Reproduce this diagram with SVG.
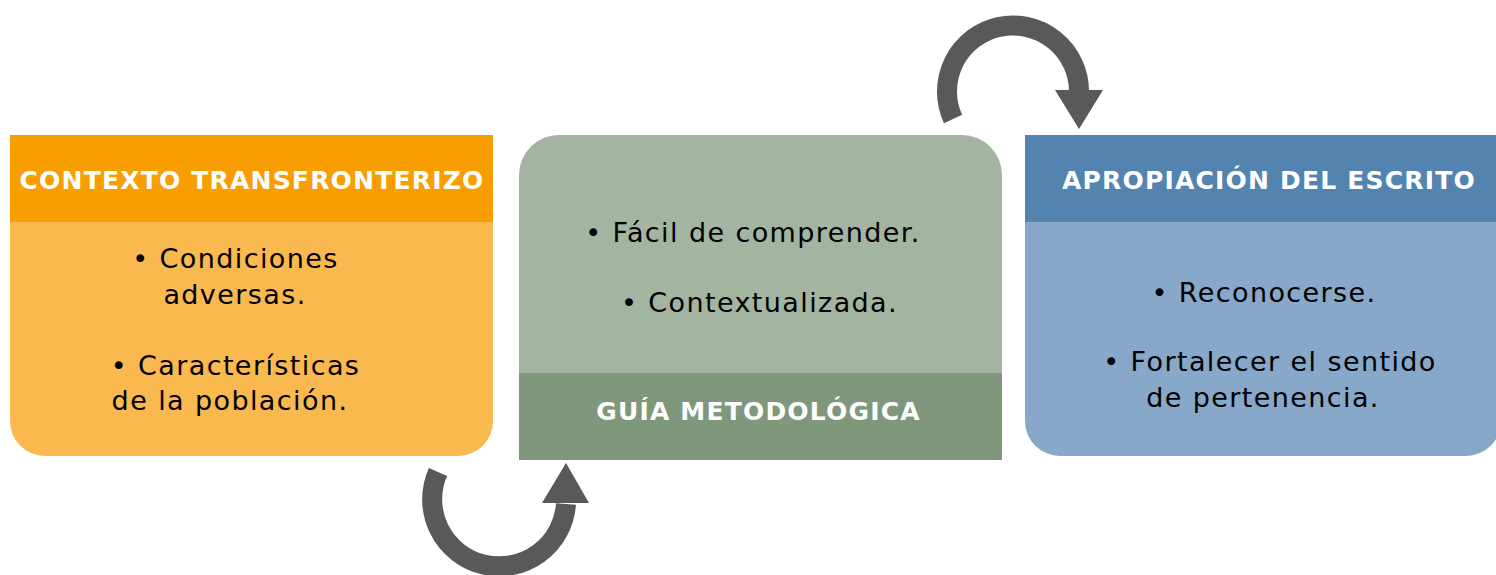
<svg xmlns="http://www.w3.org/2000/svg" width="1496" height="575" viewBox="0 0 1496 575">
  <style>
    .hdr { font-family: "DejaVu Sans", Verdana, sans-serif; font-weight: bold; font-size: 25px; letter-spacing: 1.2px; fill: #ffffff; text-anchor: middle; }
    .body { font-family: "DejaVu Sans", Verdana, sans-serif; font-size: 27px; letter-spacing: 1.4px; fill: #000000; text-anchor: middle; }
    .arc { fill: none; stroke: #595959; stroke-width: 20; stroke-linecap: butt; }
    .head { fill: #595959; }
  </style>
  <rect width="1496" height="575" fill="#ffffff"/>

  <g id="node-contexto">
    <path d="M10,135 H493 V421 A35,35 0 0 1 458,456 H45 A35,35 0 0 1 10,421 Z" fill="#F9B94E"/>
    <rect x="10" y="135" width="483" height="87" fill="#F89E00"/>
    <text class="hdr" x="252" y="189">CONTEXTO TRANSFRONTERIZO</text>
    <text class="body" x="235.5" y="268">• Condiciones</text>
    <text class="body" x="235" y="304">adversas.</text>
    <text class="body" x="235.5" y="375">• Características</text>
    <text class="body" x="230" y="410">de la población.</text>
  </g>

  <g id="node-guia">
    <path d="M519,460 V175 A40,40 0 0 1 559,135 H962 A40,40 0 0 1 1002,175 V460 Z" fill="#A3B5A0"/>
    <rect x="519" y="373" width="483" height="87" fill="#7F987B"/>
    <text class="body" x="753" y="242">• Fácil de comprender.</text>
    <text class="body" x="759.5" y="312">• Contextualizada.</text>
    <text class="hdr" x="758.5" y="420">GUÍA METODOLÓGICA</text>
  </g>

  <g id="node-apropiacion">
    <path d="M1025,135 H1501 V421 A35,35 0 0 1 1466,456 H1060 A35,35 0 0 1 1025,421 Z" fill="#87A8C8"/>
    <rect x="1025" y="135" width="476" height="87" fill="#5384B0"/>
    <text class="hdr" x="1269" y="189">APROPIACIÓN DEL ESCRITO</text>
    <text class="body" x="1264" y="302">• Reconocerse.</text>
    <text class="body" x="1270" y="371">• Fortalecer el sentido</text>
    <text class="body" x="1263" y="407">de pertenencia.</text>
  </g>

  <g id="connectors">
    <path class="arc" d="M438,472 A67,67 0 1 0 566,504"/>
    <polygon class="head" points="542,503 589,503 566,463"/>
    <path class="arc" d="M953,119 A66,66 0 1 1 1079,91"/>
    <polygon class="head" points="1055,90 1103,90 1079,129"/>
  </g>
</svg>
